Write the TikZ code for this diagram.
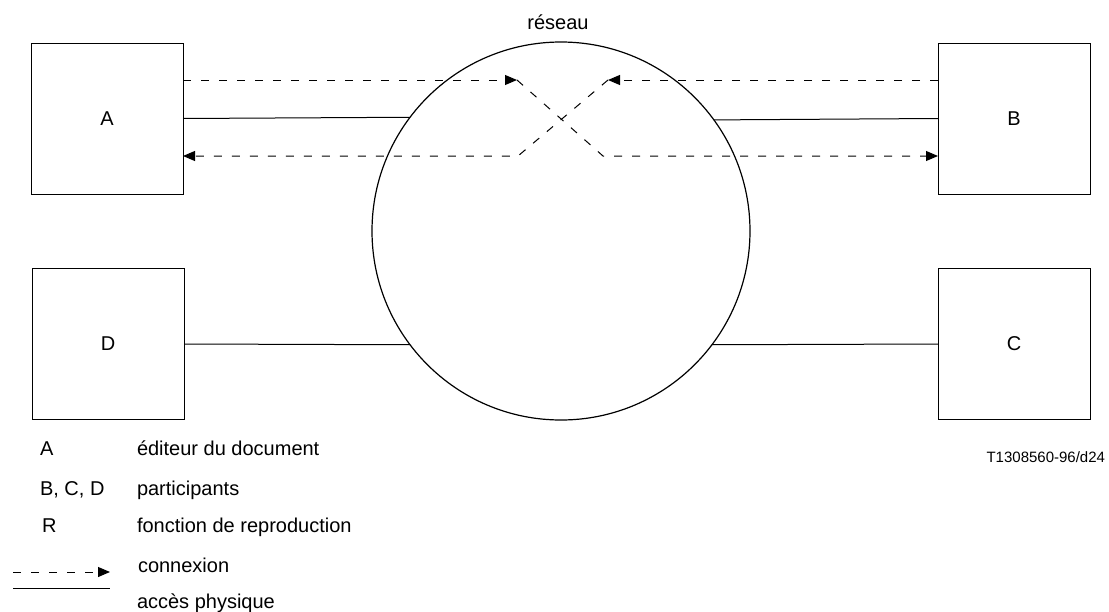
\documentclass[tikz,border=0pt]{standalone}
\usepackage{fontspec}
\setmainfont{Liberation Sans}
\usetikzlibrary{arrows.meta}
\begin{document}
\begin{tikzpicture}[x=1pt,y=-1pt,
  box/.style={draw,line width=1pt,minimum width=152pt,minimum height=151pt,inner sep=0pt,font=\fontsize{20}{24}\selectfont},
  net/.style={draw,line width=1.2pt,circle,minimum size=378pt,inner sep=0pt},
  phys/.style={line width=1pt},
  conn/.style={line width=1pt,dash pattern=on 8pt off 10pt,-{Triangle[length=12pt,width=10pt]}},
  connp/.style={line width=1pt,dash pattern=on 8pt off 10pt},
  lbl/.style={anchor=base west,inner sep=0pt,font=\fontsize{20}{24}\selectfont},
  every node/.style={outer sep=0pt}]
\useasboundingbox (0,0) rectangle (1109,611);
% boxes
\node[box] (A) at (107,118.5) {A};
\node[box] (B) at (1014,118.5) {B};
\node[box] (D) at (108,344) {D};
\node[box] (C) at (1014,344) {C};
% network
\node[net] (N) at (561,231) {};
\node[inner sep=0pt,anchor=base,font=\fontsize{20}{24}\selectfont] (lnet) at (558,29) {réseau};
% physical access
\draw[phys] (A.east) -- (N.143.3);
\draw[phys] (N.36.7) -- (B.west);
\draw[phys] (D.east) -- (N.217);
\draw[phys] (N.323) -- (C.west);
% connections
\coordinate (p1) at (517,80);
\coordinate (p2) at (603,156);
\coordinate (p3) at (608,80);
\coordinate (p4) at (518,156);
\draw[conn] ([yshift=38.5pt]A.east) -- (p1);
\draw[conn] (p1) -- (p2) -- ([yshift=-37.5pt]B.west);
\draw[conn] ([yshift=38.5pt]B.west) -- (p3);
\draw[conn] (p3) -- (p4) -- ([yshift=-37.5pt]A.east);
% legend
\node[lbl] (k1) at (40,455) {A};
\node[lbl] (v1) at (137,455) {éditeur du document};
\node[lbl] (k2) at (40,495) {B, C, D};
\node[lbl] (v2) at (137,495) {participants};
\node[lbl] (k3) at (42,532) {R};
\node[lbl] (v3) at (137,532) {fonction de reproduction};
\coordinate (ld1) at (13,572);
\coordinate (ld2) at (110,572);
\draw[conn] (ld1) -- (ld2);
\node[lbl] (v4) at (138,572) {connexion};
\coordinate (ls1) at (13,588);
\coordinate (ls2) at (110,588);
\draw[phys] (ls1) -- (ls2);
\node[lbl] (v5) at (137,608) {accès physique};
\node[anchor=base east,inner sep=0pt,font=\fontsize{15}{18}\selectfont] (ref) at (1105,462) {T1308560-96/d24};
\end{tikzpicture}
\end{document}
